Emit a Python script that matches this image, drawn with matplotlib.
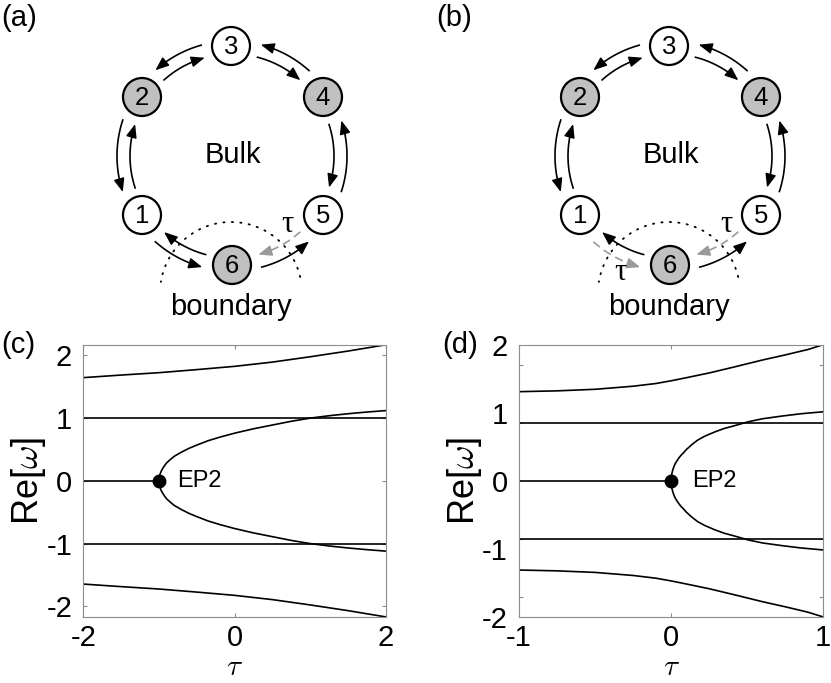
import numpy as np
import matplotlib.pyplot as plt
from matplotlib.patches import Circle, FancyArrowPatch

plt.rcParams['font.family'] = ['Liberation Sans', 'DejaVu Sans']
plt.rcParams['mathtext.fontset'] = 'cm'

# ---- data ----
# panel (c)
tau_c_outer = [-2, -1.5, -1, -0.5, 0, 0.5, 1, 1.5, 2]
re_c_outer = [1.645, 1.686, 1.724, 1.773, 1.825, 1.893, 1.978, 2.069, 2.169]
tau_c_flat = [-2, 2]
re_c_flat = [1.0, 1.0]
tau_c_zero = [-2, -1]
tau_c_branch = [-1, -0.995, -0.99, -0.98, -0.97, -0.95, -0.925, -0.9, -0.85,
                -0.8, -0.7, -0.6, -0.5, -0.35, -0.2, 0, 0.25, 0.5, 0.75,
                1, 1.25, 1.5, 1.75, 2]
re_c_branch = [0, 0.065, 0.09, 0.125, 0.155, 0.2, 0.245, 0.285, 0.34,
               0.39, 0.46, 0.52, 0.57, 0.64, 0.695, 0.76, 0.83, 0.89, 0.95,
               1.0, 1.038, 1.07, 1.097, 1.12]
ep_c = (-1, 0)

# panel (d)
tau_d_outer = [-1, -0.75, -0.5, -0.25, -0.1, 0, 0.1, 0.25, 0.4, 0.5, 0.6,
               0.75, 0.9, 1]
re_d_outer = [1.31, 1.322, 1.345, 1.39, 1.43, 1.47, 1.515, 1.585, 1.665,
              1.72, 1.775, 1.85, 1.93, 2.0]
tau_d_flat = [-1, 1]
re_d_flat = [0.85, 0.85]
tau_d_zero = [-1, 0]
tau_d_branch = [0, 0.002, 0.005, 0.01, 0.016, 0.022, 0.03, 0.04, 0.052,
                0.066, 0.08, 0.1, 0.14, 0.175, 0.22, 0.288, 0.35, 0.4,
                0.507, 0.6, 0.726, 0.85, 1]
re_d_branch = [0, 0.07, 0.11, 0.155, 0.195, 0.23, 0.265, 0.30, 0.34,
               0.378, 0.41, 0.46, 0.54, 0.60, 0.655, 0.72, 0.77, 0.80,
               0.868, 0.912, 0.951, 0.985, 1.015]
ep_d = (0, 0)

# ring diagram: node labels and which are lossy (gray)
node_labels = ['1', '2', '3', '4', '5', '6']
node_gray = [False, True, False, True, False, True]

fig = plt.figure(figsize=(8.31, 6.83), dpi=100)

# pixel-space canvas for the ring sketches
bg = fig.add_axes([0, 0, 1, 1])
bg.set_xlim(0, 831)
bg.set_ylim(683, 0)
bg.axis('off')

node_xy = np.array([[142, 215], [142, 97], [231, 46],
                    [323, 97], [323, 215], [232, 265]], dtype=float)
ring_c = np.array([232.0, 156.0])
node_r = 19
r_in, r_out = 102, 115
gap = np.deg2rad(15)
gray = '#9a9a9a'
dash = (0, (5, 3))


def arc_arrow(c, r, t0, t1, color, ls):
    t = np.linspace(t0, t1, 40)
    xs = c[0] + r * np.cos(t)
    ys = c[1] - r * np.sin(t)
    # shaft stops a bit short so the head tip is clean
    bg.plot(xs[:36], ys[:36], color=color, lw=1.2, ls=ls,
            dash_capstyle='butt')
    head = FancyArrowPatch((xs[-6], ys[-6]), (xs[-1], ys[-1]),
                           arrowstyle='-|>,head_length=0.55,head_width=0.22',
                           mutation_scale=15, color=color, lw=1.0,
                           shrinkA=0, shrinkB=0)
    bg.add_patch(head)


def ring(dx, dashed):
    xy = node_xy + [dx, 0]
    c = ring_c + [dx, 0]
    ang = np.arctan2(-(xy[:, 1] - c[1]), xy[:, 0] - c[0])
    for i in range(6):
        j = (i + 1) % 6
        ti = ang[i]
        tj = ang[j]
        while tj > ti:
            tj -= 2 * np.pi
        while ti - tj > 2 * np.pi:
            tj += 2 * np.pi
        # inner arc: i -> j (clockwise), outer arc: j -> i
        if (i, j) in dashed:
            arc_arrow(c, r_in, ti - gap, tj + gap, gray, dash)
        else:
            arc_arrow(c, r_in, ti - gap, tj + gap, 'k', '-')
        if (j, i) in dashed:
            arc_arrow(c, r_out, tj + gap, ti - gap, gray, dash)
        else:
            arc_arrow(c, r_out, tj + gap, ti - gap, 'k', '-')
    for k in range(6):
        bg.add_patch(Circle(xy[k], node_r, fc='#c0c0c0' if node_gray[k] else 'w',
                            ec='k', lw=1.6, zorder=3))
        bg.text(xy[k][0], xy[k][1] + 1, node_labels[k], ha='center', va='center',
                fontsize=18.5, zorder=4)
    # boundary dotted arc
    t = np.linspace(np.deg2rad(13), np.deg2rad(171), 200)
    bc = np.array([231.0 + dx, 293.0])
    bg.plot(bc[0] + 71 * np.cos(t), bc[1] - 71 * np.sin(t), color='k', lw=1.3,
            ls=(0, (0.7, 4.0)), dash_capstyle='round')
    bg.text(c[0] + 1, 155, 'Bulk', ha='center', va='center', fontsize=21)
    bg.text(c[0] - 1, 307, 'boundary', ha='center', va='center', fontsize=21)


ring(0, {(4, 5)})
ring(438, {(4, 5), (0, 5)})
tau_font = dict(ha='center', va='center', fontsize=22, family='Liberation Serif')
bg.text(287, 225, 'τ', **tau_font)
bg.text(726, 225, 'τ', **tau_font)
bg.text(620, 273, 'τ', **tau_font)

bg.text(1, 18, '(a)', ha='left', va='center', fontsize=21)
bg.text(436, 18, '(b)', ha='left', va='center', fontsize=21)
bg.text(1, 345, '(c)', ha='left', va='center', fontsize=21)
bg.text(442, 345, '(d)', ha='left', va='center', fontsize=21)

spine_c = '#8c8c8c'


def style(ax):
    for s in ax.spines.values():
        s.set_color(spine_c)
        s.set_linewidth(0.8)
    ax.tick_params(which='both', direction='in', length=3, width=0.8,
                   color=spine_c, labelcolor='k', labelsize=21,
                   top=True, right=True, pad=8)
    ax.tick_params(axis='x', pad=5)
    ax.set_xlabel(r'$\tau$', fontsize=21, labelpad=1)
    ax.set_ylabel(r'Re[$\omega$]', fontsize=26)


H = 617 - 344.7
axc = fig.add_axes([83.3 / 831, (683 - 617) / 683, (386 - 83.3) / 831, H / 683])
axd = fig.add_axes([519 / 831, (683 - 617) / 683, (823.3 - 519) / 831, H / 683])

lw = 1.2
for sgn in (1, -1):
    axc.plot(tau_c_outer, sgn * np.array(re_c_outer), 'k', lw=lw)
    axc.plot(tau_c_flat, sgn * np.array(re_c_flat), 'k', lw=lw)
    axc.plot(tau_c_branch, sgn * np.array(re_c_branch), 'k', lw=lw)
    axd.plot(tau_d_outer, sgn * np.array(re_d_outer), 'k', lw=lw)
    axd.plot(tau_d_flat, sgn * np.array(re_d_flat), 'k', lw=lw)
    axd.plot(tau_d_branch, sgn * np.array(re_d_branch), 'k', lw=lw)
axc.plot(tau_c_zero, [0, 0], 'k', lw=lw)
axd.plot(tau_d_zero, [0, 0], 'k', lw=lw)
axc.plot(*ep_c, 'ko', ms=9)
axd.plot(*ep_d, 'ko', ms=9)
axc.text(-0.76, 0, 'EP2', ha='left', va='center', fontsize=17)
axd.text(0.135, 0, 'EP2', ha='left', va='center', fontsize=17)

axc.set_xlim(-2, 2)
axc.set_ylim(-2.17, 2.17)
axc.set_xticks([-2, 0, 2])
axc.set_xticklabels(['-2', '0', '2'])
axc.set_yticks([-2, -1, 0, 1, 2])
axc.set_yticklabels(['-2', '-1', '0', '1', '2'])
style(axc)

axd.set_xlim(-1, 1)
axd.set_ylim(-2, 2)
axd.set_xticks([-1, 0, 1])
axd.set_xticklabels(['-1', '0', '1'])
axd.set_yticks([-2, -1, 0, 1, 2])
axd.set_yticklabels(['-2', '-1', '0', '1', '2'])
axd.set_yticks([-1.7, -0.85, 0, 0.85, 1.7], minor=True)
style(axd)
axd.tick_params(axis='y', which='major', length=0)

axc.yaxis.set_label_coords(-0.115, 0.5)
axd.yaxis.set_label_coords(-0.115, 0.5)

fig.savefig('out.png', dpi=100)
